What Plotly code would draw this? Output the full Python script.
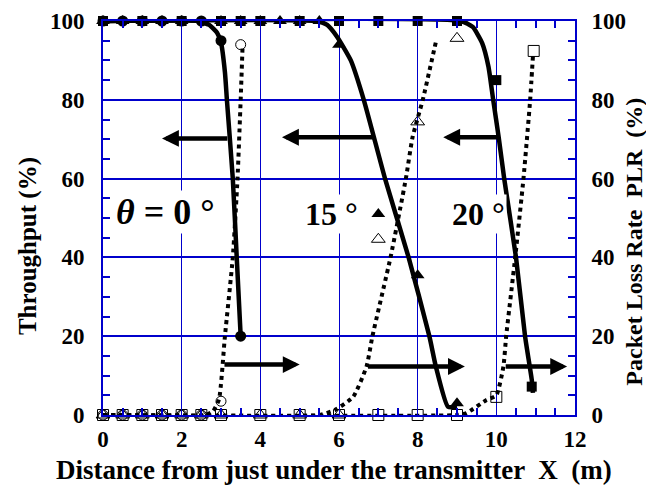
import plotly.graph_objects as go

# measured throughput points (filled markers, left axis)
tp0_x = [0, 0.5, 1, 1.5, 2, 2.5, 3, 3.5]
tp0_y = [100, 100, 100, 100, 100, 100, 95, 20]
tp15_x = [0, 0.5, 1, 1.5, 2, 3, 3.5, 4, 4.5, 5, 5.5, 6, 7, 8, 9]
tp15_y = [100, 100, 100, 100, 100, 100, 100, 100, 100, 100, 100, 94, 51, 35.5, 3]
tp20_x = [0, 1, 2, 3, 3.5, 4, 5, 6, 7, 8, 9, 10, 10.9]
tp20_y = [100, 100, 100, 100, 100, 100, 100, 100, 100, 100, 100, 85, 7.2]

# measured packet loss points (open markers, right axis)
plr0_x = [0, 0.5, 1, 1.5, 2, 2.5, 3, 3.5]
plr0_y = [0, 0, 0, 0, 0, 0, 3.5, 94]
plr15_x = [0, 0.5, 1, 1.5, 2, 2.5, 3, 4, 5, 6, 7, 8, 9]
plr15_y = [0, 0, 0, 0, 0, 0, 0, 0, 0, 0, 44.6, 74.4, 95.6]
plr20_x = [0, 0.5, 1, 1.5, 2, 2.5, 3, 4, 5, 6, 7, 8, 9, 10, 10.95]
plr20_y = [0, 0, 0, 0, 0, 0, 0, 0, 0, 0, 0, 0, 0, 4.6, 92.4]

# fitted curves
tp0_cx = [0, 2.4, 2.7, 2.9, 3.0, 3.1, 3.15, 3.3, 3.4, 3.5]
tp0_cy = [100, 100, 99, 97, 94.5, 87, 80, 60, 40, 20]
tp15_cx = [0, 5.4, 5.7, 5.95, 6.3, 6.63, 7.17, 7.77, 8.3, 8.46, 8.77, 9.0]
tp15_cy = [100, 100, 99, 96, 90, 80, 60, 40, 19.9, 12.4, 2.1, 2.1]
tp20_cx = [0, 9.1, 9.4, 9.64, 9.8, 9.92, 10.06, 10.2, 10.5, 10.73, 10.9, 10.93]
tp20_cy = [100, 100, 98.5, 94.4, 88.4, 80, 70.5, 60, 40, 20, 9, 5.6]

plr0_cx = [0, 2.6, 2.8, 2.95, 3.1, 3.3, 3.42, 3.5, 3.55]
plr0_cy = [0, 0, 1, 4, 20, 40, 60, 80, 94]
plr15_cx = [0, 5.5, 5.9, 6.36, 6.7, 6.85, 7.31, 7.7, 7.87, 8.13, 8.47]
plr15_cy = [0, 0, 1.3, 4.6, 12.3, 20, 40, 60, 70.5, 80, 95]
plr20_cx = [0, 9.0, 9.24, 9.75, 10.0, 10.18, 10.25, 10.48, 10.69, 10.86, 10.93]
plr20_cy = [0, 0, 0.5, 3.8, 5, 12.3, 20, 40, 60, 80, 91]

blue = '#0000cc'
fig = go.Figure()

# curves
for cx, cy in [(plr0_cx, plr0_cy), (plr15_cx, plr15_cy), (plr20_cx, plr20_cy)]:
    fig.add_trace(go.Scatter(x=cx, y=cy, mode='lines', yaxis='y2', cliponaxis=False,
                             line=dict(color='black', width=4, dash='dot', shape='spline', smoothing=0.5)))
for cx, cy in [(tp0_cx, tp0_cy), (tp15_cx, tp15_cy), (tp20_cx, tp20_cy)]:
    fig.add_trace(go.Scatter(x=cx, y=cy, mode='lines', cliponaxis=False,
                             line=dict(color='black', width=4.5, shape='spline', smoothing=0.5)))

# open markers (PLR)
for px, py, sym, sz in [(plr0_x, plr0_y, 'circle-open', 10),
                        (plr15_x, plr15_y, 'triangle-up-open', 12),
                        (plr20_x, plr20_y, 'square-open', 11)]:
    fig.add_trace(go.Scatter(x=px, y=py, mode='markers', yaxis='y2', cliponaxis=False,
                             marker=dict(symbol=sym, size=sz, color='black', line=dict(width=1, color='black'))))

# filled markers (throughput)
for px, py, sym, sz in [(tp0_x, tp0_y, 'circle', 11),
                        (tp15_x, tp15_y, 'triangle-up', 12),
                        (tp20_x, tp20_y, 'square', 10)]:
    fig.add_trace(go.Scatter(x=px, y=py, mode='markers', cliponaxis=False,
                             marker=dict(symbol=sym, size=sz, color='black')))

annotations = [
    dict(x=1.6, y=51.5, text='<i>θ</i> = 0 °', font=dict(size=36)),
    dict(x=5.8, y=51, text='15 °', font=dict(size=32)),
    dict(x=9.55, y=51, text='20 °', font=dict(size=32)),
]
for a in annotations:
    a.update(xref='x', yref='y', showarrow=False, bgcolor='white', borderpad=1)

# arrows pointing to the relevant axis
arrows = [
    (3.2, 70.2, 1.5, 70.2), (6.9, 70.5, 4.55, 70.5), (10.1, 70.5, 8.65, 70.5),
    (3.05, 12.8, 5.0, 12.8), (6.7, 12.3, 9.2, 12.3), (10.2, 12.3, 11.8, 12.3),
]
for tx, ty, hx, hy in arrows:
    annotations.append(dict(x=hx, y=hy, ax=tx, ay=ty, xref='x', yref='y', axref='x', ayref='y',
                            text='', showarrow=True, arrowhead=2, arrowsize=0.75, arrowwidth=4.5,
                            arrowcolor='black', standoff=0, startstandoff=0))

# axis titles
annotations += [
    dict(xref='paper', yref='paper', x=-0.16, y=0.43, text='Throughput (%)', textangle=-90,
         showarrow=False, xanchor='center', yanchor='middle', font=dict(size=25)),
    dict(xref='paper', yref='paper', x=1.125, y=0.44, text='Packet Loss Rate  PLR  (%)', textangle=-90,
         showarrow=False, xanchor='center', yanchor='middle', font=dict(size=24)),
    dict(xref='paper', yref='paper', x=0.49, y=-0.14, text='Distance from just under the transmitter  X  (m)',
         showarrow=False, xanchor='center', yanchor='middle', font=dict(size=27)),
]

minor_y = dict(dtick=5, ticks='inside', ticklen=7, tickcolor=blue, tickwidth=1.5, showgrid=False)

# the page body has an 8px margin, so the figure is 8px smaller than the window
fig.update_layout(
    width=646, height=479,
    margin=dict(l=95, r=79, t=13, b=72),
    paper_bgcolor='white', plot_bgcolor='white',
    showlegend=False,
    font=dict(family='Liberation Serif', size=23, color='black', weight='bold'),
    annotations=annotations,
    xaxis=dict(range=[0, 12], dtick=2, showgrid=True, gridcolor=blue, gridwidth=1, automargin=False,
               showline=True, linecolor=blue, linewidth=2, mirror='ticks', zeroline=False,
               ticks='inside', ticklen=7, tickcolor=blue, ticklabelstandoff=2,
               minor=dict(dtick=0.5, ticks='inside', ticklen=7, tickcolor=blue, tickwidth=1.5, showgrid=False)),
    yaxis=dict(range=[0, 100], dtick=20, showgrid=True, gridcolor=blue, gridwidth=2, automargin=False,
               showline=True, linecolor=blue, linewidth=2, zeroline=False,
               ticks='inside', ticklen=7, tickcolor=blue, ticklabelstandoff=12, minor=minor_y),
    yaxis2=dict(range=[0, 100], dtick=20, overlaying='y', side='right', showgrid=False, automargin=False,
                showline=True, linecolor=blue, linewidth=2, zeroline=False,
                ticks='inside', ticklen=7, tickcolor=blue, ticklabelstandoff=10, minor=minor_y),
)

fig.write_html('out.html')
